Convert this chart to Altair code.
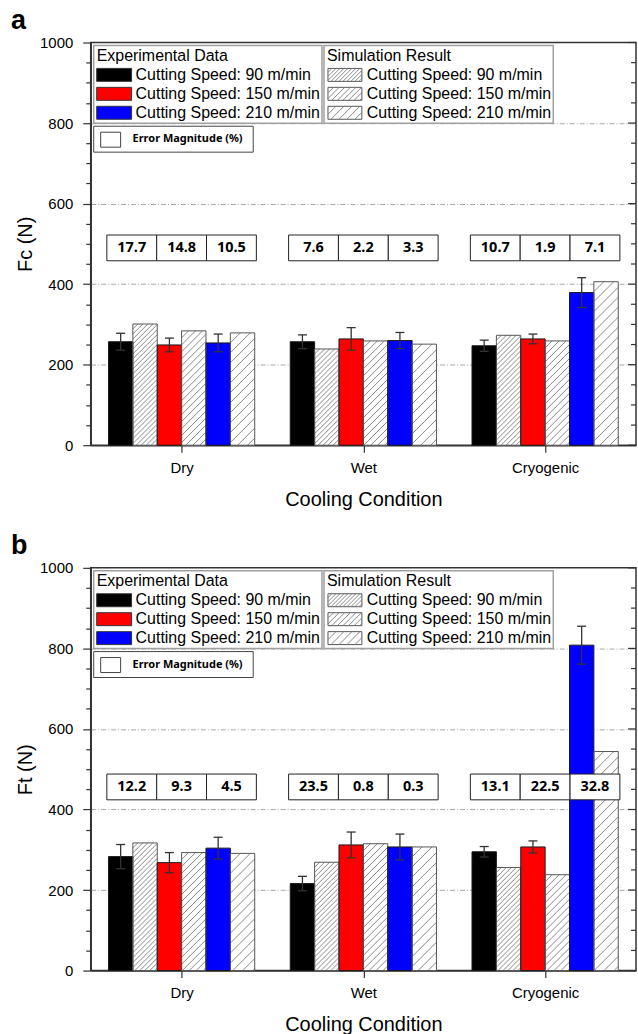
import altair as alt
import pandas as pd

# ---------------- data ----------------
categories = ["Dry", "Wet", "Cryogenic"]
speed_labels = ["Cutting Speed: 90 m/min", "Cutting Speed: 150 m/min", "Cutting Speed: 210 m/min"]
speed_colors = ["#000000", "#ff0000", "#0000ff"]

# rows = cooling condition (Dry, Wet, Cryogenic); columns = speed (90, 150, 210)
fc_exp = [[257, 249, 254], [257, 264, 260], [247, 264, 379]]
fc_err = [[21, 17, 22], [17, 28, 20], [14, 12, 37]]
fc_sim = [[301, 284, 279], [239, 259, 251], [273, 259, 406]]
fc_errmag = [["17.7", "14.8", "10.5"], ["7.6", "2.2", "3.3"], ["10.7", "1.9", "7.1"]]

ft_exp = [[283, 268, 304], [216, 312, 307], [295, 307, 808]]
ft_err = [[30, 25, 27], [18, 32, 32], [13, 15, 47]]
ft_sim = [[317, 293, 291], [269, 315, 307], [256, 238, 544]]
ft_errmag = [["12.2", "9.3", "4.5"], ["23.5", "0.8", "0.3"], ["13.1", "22.5", "32.8"]]

y_ticks = list(range(0, 1001, 50))

# ---------------- geometry / style ----------------
W, H = 547, 404
X_MIN, X_MAX = 0.5, 3.5
Y_MAX = 1000
UX = W / (X_MAX - X_MIN)
UY = H / Y_MAX
BAR_PX = 24.45
CELL_PX = 50
CAP_PX = 4.5
HATCH_PX = [5, 7, 10]
FONT = "Liberation Sans"


def xu(px):
    return X_MIN + px / UX


def yu(px_top):
    return Y_MAX - px_top / UY


def hatch_segments(w, h, s):
    """'/' lines inside a w x h box (local coords, v upward)."""
    segs = []
    o = -h
    while o < w:
        t0 = max(0.0, -o)
        t1 = min(h, w - o)
        if t1 > t0:
            segs.append((o + t0, t0, o + t1, t1))
        o += s
    return segs


xscale = alt.Scale(domain=[X_MIN, X_MAX], nice=False, zero=False)
yscale = alt.Scale(domain=[0, Y_MAX], nice=False, zero=False)
label_expr = "[" + ",".join("'%s'" % c for c in categories) + "][datum.value - 1]"


def make_axes(ytitle):
    xaxis = alt.Axis(values=[1, 2, 3], labelExpr=label_expr, title="Cooling Condition",
                     grid=False, tickSize=7, tickColor="#333", tickWidth=1.2,
                     domainColor="#333", domainWidth=1.5, labelFont=FONT, labelFontSize=15,
                     labelColor="#000", labelPadding=8, titleFont=FONT, titleFontSize=20,
                     titleFontWeight="normal", titleColor="#000", titlePadding=14)
    yaxis = alt.Axis(values=y_ticks, format="d",
                     labelExpr="datum.value % 200 === 0 ? datum.label : ''",
                     tickSize={"condition": {"test": "datum.value % 200 === 0", "value": 8}, "value": 5},
                     tickColor="#333", tickWidth=1.2, domainColor="#333", domainWidth=1.5,
                     grid=True, gridColor="#a8a8a8", gridDash=[5, 2, 1, 2], gridWidth=1,
                     gridOpacity={"condition": {"test": "datum.value % 200 === 0 && datum.value > 0 && datum.value < 1000", "value": 1}, "value": 0},
                     labelFont=FONT, labelFontSize=15, labelColor="#000", labelPadding=10,
                     title=ytitle, titleFont=FONT, titleFontSize=20, titleFontWeight="normal",
                     titleColor="#000", titlePadding=4)
    return xaxis, yaxis


def panel(exp, err, sim, errmag, box_lo, box_hi, ytitle, letter):
    xaxis, yaxis = make_axes(ytitle)

    def X(f="x"):
        return alt.X(f + ":Q", scale=xscale, axis=xaxis)

    def Y(f="y"):
        return alt.Y(f + ":Q", scale=yscale, axis=yaxis)

    bars, hatch, ebars, cells = [], [], [], []
    for i in range(3):
        c = i + 1
        for k in range(3):
            for kind in (0, 1):
                j = 2 * k + kind
                left_px = (j - 3) * BAR_PX
                xl = c + left_px / UX
                xr = c + (left_px + BAR_PX) / UX
                v = exp[i][k] if kind == 0 else sim[i][k]
                fill = speed_colors[k] if kind == 0 else "#ffffff"
                stroke = "#1a1a1a" if kind == 0 else "#555555"
                bars.append(dict(x=xl, x2=xr, y=0, y2=v, fill=fill, stroke=stroke))
                if kind == 1:
                    for (u0, v0, u1, v1) in hatch_segments(BAR_PX, v * UY, HATCH_PX[k]):
                        hatch.append(dict(x=xl + u0 / UX, x2=xl + u1 / UX, y=v0 / UY, y2=v1 / UY))
                else:
                    cx = (xl + xr) / 2
                    lo, hi = v - err[i][k], v + err[i][k]
                    ebars.append(dict(x=cx, x2=cx, y=lo, y2=hi))
                    for yy in (lo, hi):
                        ebars.append(dict(x=cx - CAP_PX / UX, x2=cx + CAP_PX / UX, y=yy, y2=yy))
            x0 = c + (-75 + CELL_PX * k) / UX
            x1 = x0 + CELL_PX / UX
            cells.append(dict(x=x0, x2=x1, y=box_lo, y2=box_hi, xm=(x0 + x1) / 2,
                              ym=(box_lo + box_hi) / 2, text=errmag[i][k]))

    # legend (pixel layout converted to data units)
    leg_rects, leg_hatch, leg_text = [], [], []

    def prect(l, t, r, b, fill, stroke, sw):
        leg_rects.append(dict(x=xu(l), x2=xu(r), y=yu(b), y2=yu(t), fill=fill, stroke=stroke, sw=sw))

    prect(3, 3, 232, 81, "#ffffff", "#a0a0a0", 1.5)
    prect(234, 3, 464, 81, "#ffffff", "#a0a0a0", 1.5)
    prect(3, 84, 163, 110, "#ffffff", "#444444", 1)
    leg_text.append(dict(x=xu(6), y=yu(13.5), text="Experimental Data"))
    leg_text.append(dict(x=xu(237), y=yu(13.5), text="Simulation Result"))
    rows = [32.5, 51.5, 70.5]
    for k, ry in enumerate(rows):
        prect(6, ry - 6.5, 41, ry + 6.5, speed_colors[k], "#333333", 1)
        leg_text.append(dict(x=xu(45), y=yu(ry), text=speed_labels[k]))
        L, T, R, B = 238, ry - 6.5, 272, ry + 6.5
        for (u0, v0, u1, v1) in hatch_segments(R - L, B - T, HATCH_PX[k] * 0.8):
            leg_hatch.append(dict(x=xu(L + u0), x2=xu(L + u1), y=yu(B - v0), y2=yu(B - v1)))
        prect(L, T, R, B, "transparent", "#555555", 1)
        leg_text.append(dict(x=xu(277), y=yu(ry), text=speed_labels[k]))
    prect(10, 90, 30, 105, "#ffffff", "#444444", 1)

    rt = []
    for v in y_ticks:
        ln = 8 if v % 200 == 0 else 5
        rt.append(dict(x=xu(W - ln), x2=xu(W), y=v, y2=v))

    bars_df = pd.DataFrame(bars)
    layers = [
        alt.Chart(bars_df).mark_rect(strokeWidth=0).encode(
            x=X(), x2="x2", y=Y(), y2="y2", fill=alt.Fill("fill:N", scale=None)),
        alt.Chart(pd.DataFrame(hatch)).mark_rule(color="#7a7a7a", strokeWidth=0.9).encode(
            x=X(), x2="x2", y=Y(), y2="y2"),
        alt.Chart(bars_df).mark_rect(fillOpacity=0, strokeWidth=1).encode(
            x=X(), x2="x2", y=Y(), y2="y2", stroke=alt.Stroke("stroke:N", scale=None)),
        alt.Chart(pd.DataFrame(ebars)).mark_rule(color="#333333", strokeWidth=1.3).encode(
            x=X(), x2="x2", y=Y(), y2="y2"),
        alt.Chart(pd.DataFrame(cells)).mark_rect(fill="#ffffff", stroke="#222222", strokeWidth=1).encode(
            x=X(), x2="x2", y=Y(), y2="y2"),
        alt.Chart(pd.DataFrame(cells)).mark_text(font="Noto Sans", fontSize=14.5, fontWeight="bold",
                                                 color="#000").encode(
            x=X("xm"), y=Y("ym"), text="text:N"),
        alt.Chart(pd.DataFrame(rt)).mark_rule(color="#333333", strokeWidth=1.2).encode(
            x=X(), x2="x2", y=Y(), y2="y2"),
        alt.Chart(pd.DataFrame(leg_rects)).mark_rect().encode(
            x=X(), x2="x2", y=Y(), y2="y2", fill=alt.Fill("fill:N", scale=None),
            stroke=alt.Stroke("stroke:N", scale=None),
            strokeWidth=alt.StrokeWidth("sw:Q", scale=None)),
        alt.Chart(pd.DataFrame(leg_hatch)).mark_rule(color="#7a7a7a", strokeWidth=0.9).encode(
            x=X(), x2="x2", y=Y(), y2="y2"),
        alt.Chart(pd.DataFrame(leg_text)).mark_text(font=FONT, fontSize=16, align="left",
                                                    baseline="middle", color="#000").encode(
            x=X(), y=Y(), text="text:N"),
        alt.Chart(pd.DataFrame([dict(x=xu(42), y=yu(97), text="Error Magnitude (%)")])).mark_text(
            font="Noto Sans", fontSize=11, fontWeight="bold", align="left", baseline="middle",
            color="#000").encode(x=X(), y=Y(), text="text:N"),
        alt.Chart(pd.DataFrame([dict(x=xu(-80), y=yu(-14), text=letter)])).mark_text(
            font=FONT, fontSize=27, fontWeight="bold", align="left", baseline="alphabetic",
            color="#000").encode(x=X(), y=Y(), text="text:N"),
    ]
    return alt.layer(*layers).properties(width=W, height=H)


pa = panel(fc_exp, fc_err, fc_sim, fc_errmag, 458, 522, "Fc (N)", "a")
pb = panel(ft_exp, ft_err, ft_sim, ft_errmag, 424, 488, "Ft (N)", "b")

chart = alt.vconcat(pa, pb, spacing=21).properties(
    padding={"left": 10, "top": 4, "right": 0, "bottom": 0},
    background="#ffffff",
).configure_view(stroke="#333333", strokeWidth=1.5)

chart.save("out.html", embed_options={"renderer": "svg", "actions": False})
